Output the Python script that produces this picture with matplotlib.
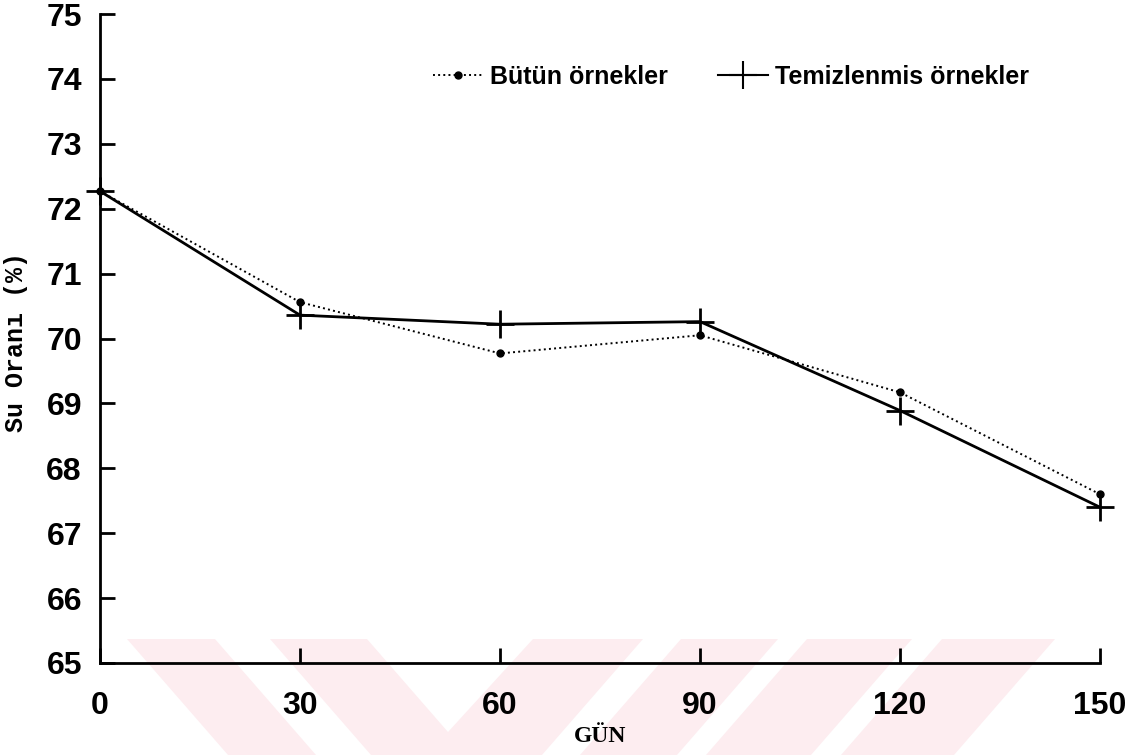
import matplotlib
matplotlib.use("Agg")
import matplotlib.pyplot as plt
from matplotlib.lines import Line2D
from matplotlib.patches import Polygon

# veriler
gun = [0, 30, 60, 90, 120, 150]
butun = [72.27, 70.56, 69.77, 70.05, 69.17, 67.60]
temiz = [72.27, 70.36, 70.22, 70.26, 68.89, 67.40]
y_ticks = [65, 66, 67, 68, 69, 70, 71, 72, 73, 74, 75]
labels = ["Bütün örnekler", "Temizlenmis örnekler"]

W, H = 1132, 755

# arka plandaki soluk pembe filigran (piksel koordinatlari)
watermark = [
    [(127, 639), (215, 639), (316, 755), (228, 755)],
    [(270, 639), (367, 639), (448, 732), (533, 639), (643, 639),
     (542, 755), (371, 755)],
    [(681, 639), (778, 639), (677, 755), (580, 755)],
    [(807, 639), (912, 639), (811, 755), (706, 755)],
    [(942, 639), (1055, 639), (954, 755), (841, 755)],
]

fig = plt.figure(figsize=(W / 100, H / 100), dpi=100)
ax = fig.add_axes([100 / W, 1 - 663 / H, 1000 / W, 649 / H])
ax.set_facecolor("none")

for pts in watermark:
    poly = Polygon([(x / W, 1 - y / H) for x, y in pts], closed=True,
                   facecolor="#fdedf0", edgecolor="none",
                   transform=fig.transFigure, zorder=-1)
    fig.add_artist(poly)

ax.plot(gun, butun, color="black", linestyle=":", linewidth=1.4,
        marker="o", markersize=5, clip_on=False, zorder=3)
ax.plot(gun, temiz, color="black", linestyle="-", linewidth=2.0,
        marker="+", markersize=20, markeredgewidth=2, clip_on=False, zorder=4)

ax.set_xlim(0, 150)
ax.set_ylim(65, 75)
ax.set_xticks(gun)
ax.set_yticks(y_ticks)

for s in ["top", "right"]:
    ax.spines[s].set_visible(False)
for s in ["left", "bottom"]:
    ax.spines[s].set_linewidth(2)

ax.tick_params(axis="both", direction="in", length=11, width=2)
ax.tick_params(axis="y", pad=13)
ax.tick_params(axis="x", pad=20)
for lab in ax.get_xticklabels() + ax.get_yticklabels():
    lab.set_fontfamily("Liberation Sans")
    lab.set_fontweight("bold")
    lab.set_fontsize(23)

ax.set_ylabel("Su Oranı (%)", fontfamily="Liberation Mono",
              fontweight="bold", fontsize=18)
ax.yaxis.set_label_coords(-0.072, 0.495)
ax.set_xlabel("GÜN", fontfamily="Liberation Serif", fontweight="bold",
              fontsize=17, labelpad=4)

handles = [
    Line2D([], [], color="black", linestyle=":", linewidth=1.4,
           marker="o", markersize=5),
    Line2D([], [], color="black", linestyle="-", linewidth=1.5,
           marker="+", markersize=20, markeredgewidth=1.5),
]
ax.legend(handles, labels, ncol=2, frameon=False, loc="center left",
          bbox_to_anchor=(0.31, 0.903), handlelength=2.0,
          handletextpad=0.3, columnspacing=2.0,
          prop={"family": "Liberation Sans", "weight": "bold", "size": 18})

fig.savefig("out.png", dpi=100)
